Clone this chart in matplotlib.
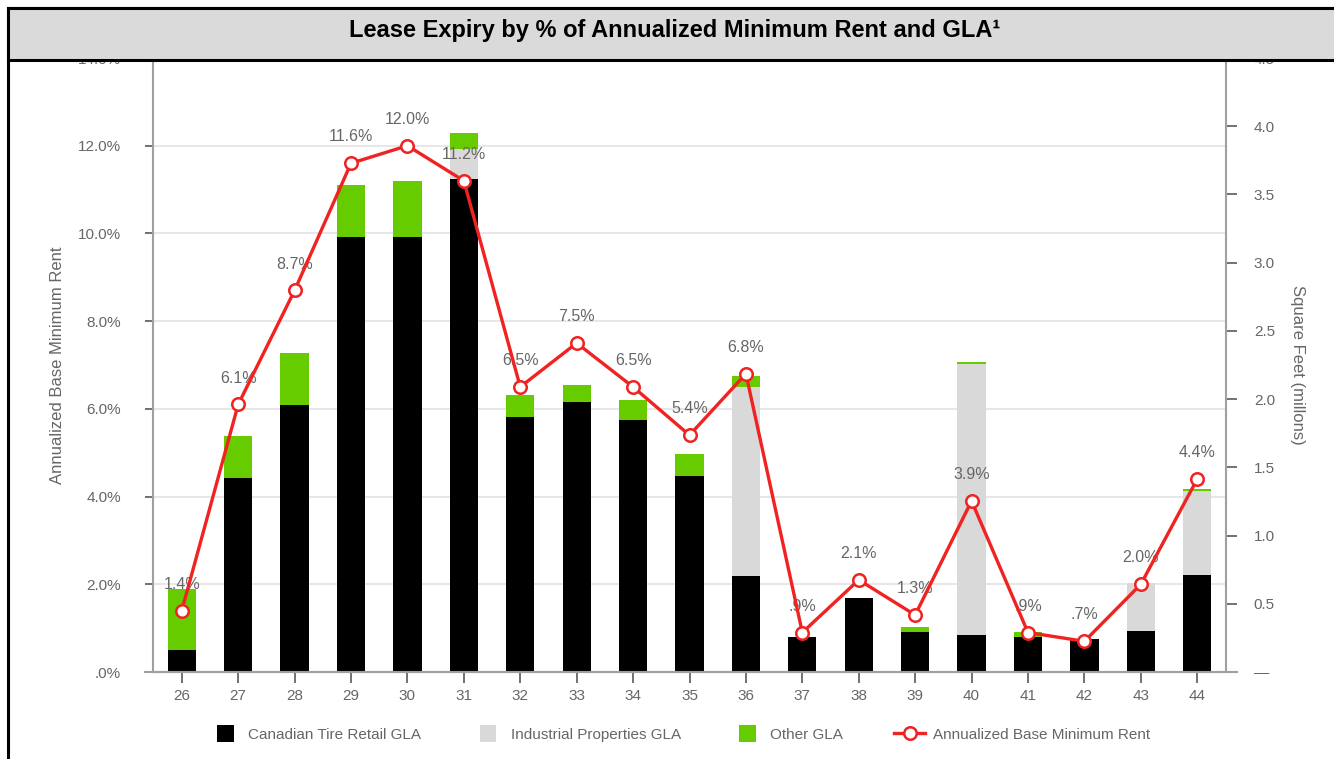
import matplotlib

matplotlib.use("Agg")
import matplotlib.pyplot as plt
from matplotlib.legend_handler import HandlerPatch
from matplotlib.lines import Line2D
from matplotlib.patches import Patch, Rectangle
import numpy as np

plt.rcParams["font.family"] = ["Liberation Sans", "DejaVu Sans"]

# data
years = [26, 27, 28, 29, 30, 31, 32, 33, 34, 35, 36, 37, 38, 39, 40, 41, 42, 43, 44]
ct_gla = [0.16, 1.42, 1.96, 3.19, 3.19, 3.61, 1.87, 1.98, 1.85, 1.44, 0.70,
          0.26, 0.54, 0.29, 0.27, 0.26, 0.24, 0.30, 0.71]           # millions sq ft
ind_gla = [0.0, 0.0, 0.0, 0.0, 0.0, 0.22, 0.0, 0.0, 0.0, 0.0, 1.39,
           0.0, 0.0, 0.0, 1.99, 0.0, 0.0, 0.35, 0.62]
other_gla = [0.45, 0.31, 0.38, 0.38, 0.41, 0.12, 0.16, 0.12, 0.14, 0.16, 0.08,
             0.0, 0.0, 0.04, 0.01, 0.03, 0.0, 0.0, 0.01]
rent_pct = [1.4, 6.1, 8.7, 11.6, 12.0, 11.2, 6.5, 7.5, 6.5, 5.4, 6.8,
            0.9, 2.1, 1.3, 3.9, 0.9, 0.7, 2.0, 4.4]

left_ticks = [0, 2, 4, 6, 8, 10, 12, 14]
right_ticks = [0, 0.5, 1.0, 1.5, 2.0, 2.5, 3.0, 3.5, 4.0, 4.5]

BLACK = "#000000"
GREY = "#d9d9d9"
GREEN = "#66cc00"
RED = "#f02222"
INK = "#666666"
AXIS = "#a0a0a0"


def pct_label(v):
    s = f"{v:.1f}%"
    return s[1:] if s.startswith("0") else s


def square_patch(legend, orig_handle, xdescent, ydescent, width, height, fontsize):
    # fixed-size square centred in the (wider) handle box
    side = height * 1.2
    return Rectangle((-xdescent + (width - side) / 2, -ydescent + (height - side) / 2), side, side)


fig = plt.figure(figsize=(13.34, 7.59), dpi=100)
ax = fig.add_axes([153 / 1334, 1 - 672 / 759, (1226 - 153) / 1334, (672 - 58) / 759])
ax2 = ax.twinx()
ax3 = ax.twinx()

# left axis: percent, gridlines
ax.set_ylim(0, 14)
ax.set_yticks(left_ticks)
ax.set_yticklabels([pct_label(t) for t in left_ticks])
ax.yaxis.grid(True, color="#e3e3e3", linewidth=1.2)
ax.set_axisbelow(True)
ax.set_xlim(25.49, 44.51)
ax.set_xticks(years)
ax.set_xticklabels([str(y) for y in years])
ax.tick_params(axis="y", colors=INK, labelsize=11, length=6, width=1.3, pad=17)
ax.tick_params(axis="x", colors=INK, labelsize=11, length=8, width=1.3, pad=4)
for side in ["top", "right"]:
    ax.spines[side].set_visible(False)
for side in ["left", "bottom"]:
    ax.spines[side].set_color(AXIS)
    ax.spines[side].set_linewidth(1.5)
for t in ax.get_xticklines() + ax.get_yticklines():
    t.set_color(AXIS)
ax.set_ylabel("Annualized Base Minimum Rent", color=INK, fontsize=12, labelpad=9)

# right axis: stacked GLA bars
x = np.array(years)
ct = np.array(ct_gla)
ind = np.array(ind_gla)
oth = np.array(other_gla)
ax2.bar(x, ct, width=0.5, color=BLACK, zorder=2)
ax2.bar(x, ind, width=0.5, bottom=ct, color=GREY, zorder=2)
ax2.bar(x, oth, width=0.5, bottom=ct + ind, color=GREEN, zorder=2)
ax2.set_ylim(0, 4.5)
ax2.set_yticks(right_ticks)
ax2.set_yticklabels(["—"] + [f"{t:.1f}" for t in right_ticks[1:]])
ax2.tick_params(axis="y", colors=INK, labelsize=11, length=8, width=1.3, pad=12)
for t in ax2.get_yticklines():
    t.set_color(AXIS)
for side in ["top", "left", "bottom"]:
    ax2.spines[side].set_visible(False)
ax2.spines["right"].set_color(AXIS)
ax2.spines["right"].set_linewidth(1.5)
ax2.set_ylabel("Square Feet (millons)", color=INK, fontsize=12, rotation=270, labelpad=22)

# line on top, shares the percent scale
ax3.set_ylim(0, 14)
ax3.plot(years, rent_pct, color=RED, linewidth=2.4, marker="o", markersize=9,
         markerfacecolor="white", markeredgecolor=RED, markeredgewidth=1.8, zorder=4)
for yr, v in zip(years, rent_pct):
    ax3.annotate(pct_label(v), xy=(yr, v), xytext=(0, 19), textcoords="offset points",
                 ha="center", va="center", fontsize=11.5, color=INK)
ax3.set_yticks([])
for side in ax3.spines:
    ax3.spines[side].set_visible(False)

# baseline runs a little past both spines
fig.add_artist(Line2D([145 / 1334, 1237 / 1334], [1 - 672 / 759] * 2, transform=fig.transFigure,
                      color=AXIS, linewidth=1.5, zorder=1))

# frame and title band
fig.add_artist(Rectangle((8 / 1334, -0.05), 1.1, 1.05 - 8 / 759, transform=fig.transFigure,
                         fill=False, edgecolor="black", linewidth=2.2, zorder=5))
fig.add_artist(Rectangle((8 / 1334, 1 - 60 / 759), 1.1, 52 / 759, transform=fig.transFigure,
                         facecolor="#dadada", edgecolor="black", linewidth=2.2, zorder=6))
fig.text(675 / 1334, 1 - 30 / 759, "Lease Expiry by % of Annualized Minimum Rent and GLA¹",
         ha="center", va="center", fontsize=17, fontweight="bold", color="black", zorder=7)

handles = [
    Patch(facecolor=BLACK, label="Canadian Tire Retail GLA"),
    Patch(facecolor=GREY, label="Industrial Properties GLA"),
    Patch(facecolor=GREEN, label="Other GLA"),
    Line2D([], [], color=RED, linewidth=2.4, marker="o", markersize=9,
           markerfacecolor="white", markeredgecolor=RED, markeredgewidth=1.8,
           label="Annualized Base Minimum Rent"),
]
fig.legend(handles=handles, loc="center", bbox_to_anchor=(680 / 1334, 1 - 734 / 759),
           ncol=4, frameon=False, fontsize=11, labelcolor=INK, handlelength=2.0,
           handleheight=1.0, columnspacing=3.35, handletextpad=0.5,
           handler_map={Patch: HandlerPatch(patch_func=square_patch)})

fig.savefig("out.png", dpi=100)
